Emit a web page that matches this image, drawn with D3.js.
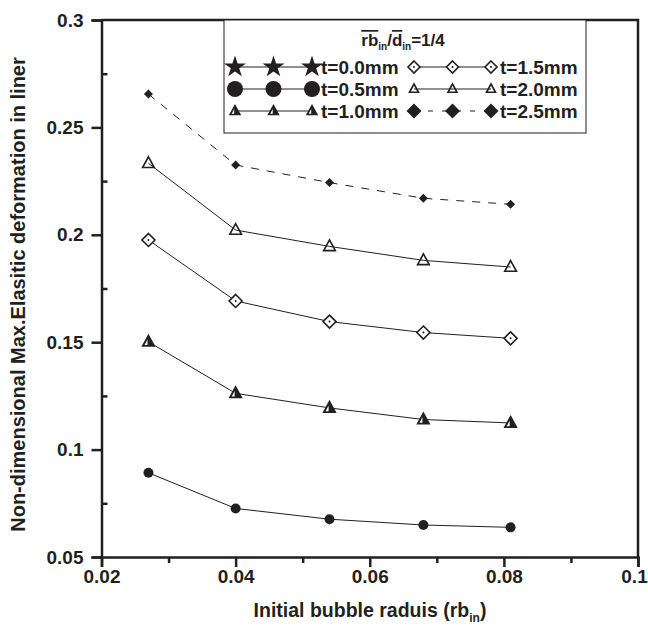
<!DOCTYPE html>
<html>
<head>
<meta charset="utf-8">
<script src="https://cdn.jsdelivr.net/npm/d3@7"></script>
<style>
body { margin: 0; background: #fff; }
svg { display: block; font-family: "Liberation Sans", Arial, sans-serif; }
</style>
</head>
<body>
<script>
// data
var xValues = [0.027, 0.04, 0.054, 0.068, 0.081];
var t05 = [0.0892, 0.0726, 0.0676, 0.0649, 0.0638];
var t10 = [0.1502, 0.1262, 0.1194, 0.1140, 0.1124];
var t15 = [0.1976, 0.1692, 0.1596, 0.1545, 0.1518];
var t20 = [0.2333, 0.2022, 0.1946, 0.1881, 0.1850];
var t25 = [0.2655, 0.2325, 0.2243, 0.2170, 0.2142];
var xTicks = [0.02, 0.04, 0.06, 0.08, 0.1];
var yTicks = [0.05, 0.1, 0.15, 0.2, 0.25, 0.3];
var legendNames = ["t=0.0mm", "t=0.5mm", "t=1.0mm", "t=1.5mm", "t=2.0mm", "t=2.5mm"];

function drawChart() {
    var width = 648, height = 633;
    var leftX = 101.5, topY = 20, rightX = 638, bottomY = 557;
    var ink = "#231f20";

    var svg = d3.select("body").append("svg")
        .attr("width", width)
        .attr("height", height);

    var x = d3.scaleLinear().domain([0.02, 0.1]).range([leftX, rightX]);
    var y = d3.scaleLinear().domain([0.05, 0.3]).range([bottomY, topY]);

    // frame top + right
    svg.append("path")
        .attr("d", "M" + leftX + "," + topY + "H" + rightX + "V" + bottomY)
        .attr("fill", "none").attr("stroke", ink).attr("stroke-width", 2.5);

    // x axis
    var xAxis = d3.axisBottom(x).tickValues(xTicks).tickSize(10).tickFormat(d3.format(""));
    var gx = svg.append("g").attr("transform", "translate(0," + bottomY + ")").call(xAxis);
    var xMinor = d3.axisBottom(x).tickValues([0.03, 0.05, 0.07, 0.09]).tickSize(6).tickFormat("");
    svg.append("g").attr("transform", "translate(0," + bottomY + ")").call(xMinor)
        .call(function(g) { g.select(".domain").remove(); });

    // y axis
    var yAxis = d3.axisLeft(y).tickValues(yTicks).tickSize(10).tickFormat(d3.format(""));
    var gy = svg.append("g").attr("transform", "translate(" + leftX + ",0)").call(yAxis);
    var yMinor = d3.axisRight(y).tickValues([0.075, 0.125, 0.175, 0.225, 0.275]).tickSize(6).tickFormat("");
    svg.append("g").attr("transform", "translate(" + leftX + ",0)").call(yMinor)
        .call(function(g) { g.select(".domain").remove(); });

    svg.selectAll(".domain").attr("stroke", ink).attr("stroke-width", 2.5);
    svg.selectAll(".tick line").attr("stroke", ink).attr("stroke-width", 2.5);
    svg.selectAll(".tick text")
        .attr("fill", ink)
        .style("font-size", "19px")
        .style("font-weight", "bold")
        .style("font-family", "'Liberation Sans', Arial, sans-serif");
    gx.selectAll(".tick text").attr("y", 13).attr("dy", "0.71em")
        .attr("dx", function(d) { return d == 0.1 ? -4 : 0; });
    gy.selectAll(".tick text").attr("x", -18);

    // axis titles
    var xt = svg.append("text")
        .attr("x", 370).attr("y", 617)
        .attr("text-anchor", "middle")
        .attr("fill", ink)
        .style("font-size", "19.5px").style("font-weight", "bold");
    xt.append("tspan").text("Initial bubble raduis (rb");
    xt.append("tspan").attr("dy", 5).style("font-size", "12px").text("in");
    xt.append("tspan").attr("dy", -5).text(")");

    svg.append("text")
        .attr("transform", "translate(25," + ((topY + bottomY) / 2 + 6) + ") rotate(-90)")
        .attr("text-anchor", "middle")
        .attr("fill", ink)
        .style("font-size", "20px").style("font-weight", "bold")
        .text("Non-dimensional Max.Elasitic deformation in liner");

    // markers
    function triPath(s) {
        return "M0," + (-s) + "L" + (s * 0.9) + "," + (s * 0.65) + "L" + (-s * 0.9) + "," + (s * 0.65) + "Z";
    }
    function diaPath(s) {
        return "M0," + (-s) + "L" + s + ",0L0," + s + "L" + (-s) + ",0Z";
    }

    function drawMarker(g, kind, big) {
        if (kind == "star") {
            g.append("path").attr("d", d3.symbol().type(d3.symbolStar).size(150)()).attr("fill", ink);
        } else if (kind == "circle") {
            g.append("circle").attr("r", big ? 8 : 5).attr("fill", ink);
        } else if (kind == "half") {
            var s = big ? 5.5 : 6.5;
            g.append("path").attr("d", triPath(s)).attr("fill", ink).attr("stroke", ink).attr("stroke-width", 1.5);
            g.append("path")
                .attr("d", "M" + (-s * 0.15) + "," + (-s * 0.35) + "L" + (-s * 0.15) + "," + (s * 0.5) + "L" + (-s * 0.6) + "," + (s * 0.5) + "Z")
                .attr("fill", "#fff");
        } else if (kind == "opendia") {
            var s2 = big ? 6 : 6.5;
            g.append("path").attr("d", diaPath(s2)).attr("fill", "#fff").attr("stroke", ink).attr("stroke-width", 1.6);
            g.append("circle").attr("r", 1).attr("fill", ink);
        } else if (kind == "opentri") {
            var s3 = big ? 5 : 6.5;
            g.append("path").attr("d", triPath(s3)).attr("fill", "none").attr("stroke", ink).attr("stroke-width", 1.6);
        } else if (kind == "filldia") {
            g.append("path").attr("d", diaPath(big ? 7.5 : 4.5)).attr("fill", ink);
        }
    }

    var series = [
        { values: t05, kind: "circle", dash: null },
        { values: t10, kind: "half", dash: null },
        { values: t15, kind: "opendia", dash: null },
        { values: t20, kind: "opentri", dash: null },
        { values: t25, kind: "filldia", dash: "8,8" }
    ];

    var line = d3.line()
        .x(function(d) { return x(d[0]); })
        .y(function(d) { return y(d[1]); });

    series.forEach(function(s) {
        var pts = xValues.map(function(v, i) { return [v, s.values[i]]; });
        svg.append("path")
            .attr("d", line(pts))
            .attr("fill", "none")
            .attr("stroke", ink)
            .attr("stroke-width", 1)
            .attr("stroke-dasharray", s.dash);
        pts.forEach(function(p) {
            var g = svg.append("g").attr("transform", "translate(" + x(p[0]) + "," + y(p[1]) + ")");
            drawMarker(g, s.kind, false);
        });
    });

    // legend
    var lg = svg.append("g");
    lg.append("rect")
        .attr("x", 224).attr("y", topY).attr("width", 362).attr("height", 113)
        .attr("fill", "#fff").attr("stroke", ink).attr("stroke-width", 1);

    var lt = lg.append("text")
        .attr("x", 403).attr("y", 46)
        .attr("text-anchor", "middle").attr("fill", ink)
        .style("font-size", "17px").style("font-weight", "bold");
    lt.append("tspan").style("text-decoration", "overline").text("rb");
    lt.append("tspan").attr("dy", 4).style("font-size", "10px").text("in");
    lt.append("tspan").attr("dy", -4).text("/");
    lt.append("tspan").style("text-decoration", "overline").text("d");
    lt.append("tspan").attr("dy", 4).style("font-size", "10px").text("in");
    lt.append("tspan").attr("dy", -4).text("=1/4");

    var legendItems = [
        { name: legendNames[0], kind: "star", dash: null, col: 0, row: 0 },
        { name: legendNames[1], kind: "circle", dash: null, col: 0, row: 1 },
        { name: legendNames[2], kind: "half", dash: null, col: 0, row: 2 },
        { name: legendNames[3], kind: "opendia", dash: null, col: 1, row: 0 },
        { name: legendNames[4], kind: "opentri", dash: null, col: 1, row: 1 },
        { name: legendNames[5], kind: "filldia", dash: "5,9", col: 1, row: 2 }
    ];
    var colX = [235, 414];
    var rowY = [67, 89, 111];

    legendItems.forEach(function(it) {
        var x0 = colX[it.col], yy = rowY[it.row];
        lg.append("line")
            .attr("x1", x0).attr("x2", x0 + 77)
            .attr("y1", yy).attr("y2", yy)
            .attr("stroke", ink).attr("stroke-width", 1)
            .attr("stroke-dasharray", it.dash);
        [0, 38.5, 77].forEach(function(dx) {
            var g = lg.append("g").attr("transform", "translate(" + (x0 + dx) + "," + yy + ")");
            drawMarker(g, it.kind, true);
        });
        lg.append("text")
            .attr("x", x0 + 86).attr("y", yy + 7)
            .attr("fill", ink)
            .style("font-size", "19px").style("font-weight", "bold")
            .text(it.name);
    });
}

drawChart();
</script>
</body>
</html>
